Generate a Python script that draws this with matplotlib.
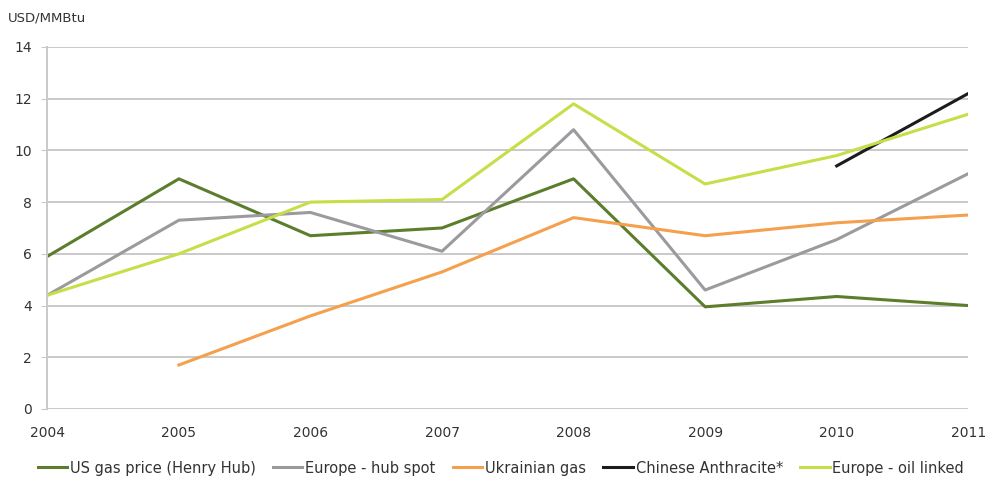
import matplotlib
matplotlib.use("Agg")
import matplotlib.pyplot as plt

years = [2004, 2005, 2006, 2007, 2008, 2009, 2010, 2011]
us_gas = [5.9, 8.9, 6.7, 7.0, 8.9, 3.95, 4.35, 4.0]
europe_hub = [4.4, 7.3, 7.6, 6.1, 10.8, 4.6, 6.55, 9.1]
ukraine_years = [2005, 2006, 2007, 2008, 2009, 2010, 2011]
ukraine_gas = [1.7, 3.6, 5.3, 7.4, 6.7, 7.2, 7.5]
china_years = [2010, 2011]
china_anthracite = [9.4, 12.2]
europe_oil = [4.4, 6.0, 8.0, 8.1, 11.8, 8.7, 9.8, 11.4]

plt.rcParams["font.family"] = ["DejaVu Sans"]
fig = plt.figure(figsize=(9.86, 4.84), dpi=100)
ax = fig.add_axes([0.048, 0.155, 0.934, 0.748])

lw = 2.2
ax.plot(years, us_gas, color="#5b7d2c", lw=lw, label="US gas price (Henry Hub)")
ax.plot(years, europe_hub, color="#9b9b9f", lw=lw, label="Europe - hub spot")
ax.plot(ukraine_years, ukraine_gas, color="#f4a04c", lw=lw, label="Ukrainian gas")
ax.plot(china_years, china_anthracite, color="#1c1c1c", lw=lw, label="Chinese Anthracite*")
ax.plot(years, europe_oil, color="#c6df48", lw=lw, label="Europe - oil linked")

ax.set_xlim(2004, 2011)
ax.set_ylim(0, 14)
ax.set_xticks(years)
ax.set_yticks(range(0, 15, 2))
ax.grid(axis="y", color="#c9c9c9", lw=1.4)
ax.set_axisbelow(True)
for s in ["top", "right", "bottom"]:
    ax.spines[s].set_visible(False)
ax.spines["left"].set_color("#c9c9c9")
ax.spines["left"].set_linewidth(1.4)
ax.tick_params(axis="y", length=4, color="#c9c9c9", labelsize=10, labelcolor="#333333", pad=7)
ax.tick_params(axis="x", length=0, labelsize=10, labelcolor="#333333", pad=12)

fig.text(0.008, 0.962, "USD/MMBtu", fontsize=9.5, color="#333333", va="center")
fig.legend(loc="center", bbox_to_anchor=(0.508, 0.033), ncol=5, frameon=False,
           fontsize=10.5, handlelength=2.0, handletextpad=0.2, columnspacing=1.2,
           labelcolor="#333333")

fig.savefig("out.png", dpi=100)
